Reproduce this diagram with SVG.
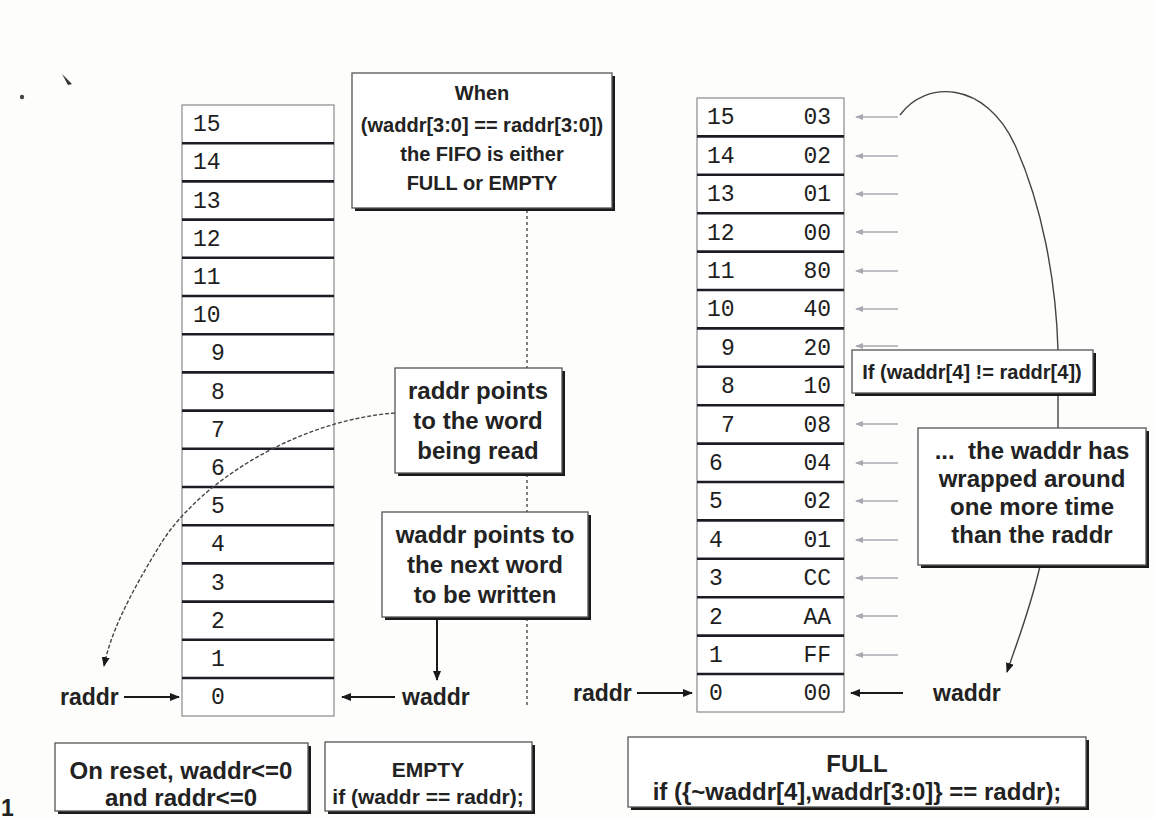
<svg xmlns="http://www.w3.org/2000/svg" width="1156" height="819" viewBox="0 0 1156 819">
<style>
.bg{fill:#fdfdfb}
.col{fill:#fff;stroke:#8a8a8a;stroke-width:1.2}
.sep{stroke:#1c1c24;stroke-width:2.6}
.num{font-family:"Liberation Mono",monospace;font-size:23px;fill:#1e1e1e}
.box{fill:#fff;stroke:#555;stroke-width:1.3}
.shadow{fill:#1a1a1a}
.t20{font-family:"Liberation Sans",Arial,sans-serif;font-weight:bold;font-size:20px;fill:#222;text-anchor:middle}
.t24{font-family:"Liberation Sans",Arial,sans-serif;font-weight:bold;font-size:24px;fill:#222;text-anchor:middle}
.t21{font-family:"Liberation Sans",Arial,sans-serif;font-weight:bold;font-size:21px;fill:#222;text-anchor:middle}
.lbl{font-family:"Liberation Sans",Arial,sans-serif;font-weight:bold;font-size:23px;fill:#222}
.ptr{stroke:#1a1a1a;stroke-width:2;fill:none}
.gptr{stroke:#a9a9b2;stroke-width:1.6;fill:none}
.dash{stroke:#555;stroke-width:1.5;fill:none;stroke-dasharray:3 3}
.curve{stroke:#444;stroke-width:1.4;fill:none}
</style>
<defs>
<marker id="ah" markerWidth="10" markerHeight="8" refX="9" refY="4" orient="auto" markerUnits="userSpaceOnUse"><path d="M0,0 L10,4 L0,8 z" fill="#1a1a1a"/></marker>
<marker id="gh" markerWidth="8" markerHeight="6" refX="7" refY="3" orient="auto" markerUnits="userSpaceOnUse"><path d="M0,0 L8,3 L0,6 z" fill="#a9a9b2"/></marker>
</defs>
<rect class="bg" x="0" y="0" width="1156" height="819"/>
<circle cx="22" cy="97" r="2.2" fill="#444"/>
<path d="M62,74 L72,84 L68,85 z" fill="#333"/>

<g id="left-memory">
<rect class="col" x="182" y="105" width="152" height="611"/>
<g class="sep">
<line x1="182" y1="143.2" x2="334" y2="143.2"/><line x1="182" y1="181.4" x2="334" y2="181.4"/><line x1="182" y1="219.6" x2="334" y2="219.6"/><line x1="182" y1="257.8" x2="334" y2="257.8"/><line x1="182" y1="296" x2="334" y2="296"/><line x1="182" y1="334.2" x2="334" y2="334.2"/><line x1="182" y1="372.4" x2="334" y2="372.4"/><line x1="182" y1="410.6" x2="334" y2="410.6"/><line x1="182" y1="448.8" x2="334" y2="448.8"/><line x1="182" y1="487" x2="334" y2="487"/><line x1="182" y1="525.2" x2="334" y2="525.2"/><line x1="182" y1="563.4" x2="334" y2="563.4"/><line x1="182" y1="601.6" x2="334" y2="601.6"/><line x1="182" y1="639.8" x2="334" y2="639.8"/><line x1="182" y1="678" x2="334" y2="678"/>
</g>
<g class="num">
<text x="193" y="131">15</text><text x="193" y="169">14</text><text x="193" y="208">13</text><text x="193" y="246">12</text><text x="193" y="284">11</text><text x="193" y="322">10</text>
<text x="211" y="360">9</text><text x="211" y="399">8</text><text x="211" y="437">7</text><text x="211" y="475">6</text><text x="211" y="513">5</text><text x="211" y="551">4</text><text x="211" y="590">3</text><text x="211" y="628">2</text><text x="211" y="666">1</text><text x="211" y="704">0</text>
</g>
</g>

<g id="right-memory">
<rect class="col" x="697" y="98" width="147" height="614"/>
<g class="sep">
<line x1="697" y1="136.4" x2="844" y2="136.4"/><line x1="697" y1="174.8" x2="844" y2="174.8"/><line x1="697" y1="213.2" x2="844" y2="213.2"/><line x1="697" y1="251.6" x2="844" y2="251.6"/><line x1="697" y1="290" x2="844" y2="290"/><line x1="697" y1="328.4" x2="844" y2="328.4"/><line x1="697" y1="366.8" x2="844" y2="366.8"/><line x1="697" y1="405.2" x2="844" y2="405.2"/><line x1="697" y1="443.6" x2="844" y2="443.6"/><line x1="697" y1="482" x2="844" y2="482"/><line x1="697" y1="520.4" x2="844" y2="520.4"/><line x1="697" y1="558.8" x2="844" y2="558.8"/><line x1="697" y1="597.2" x2="844" y2="597.2"/><line x1="697" y1="635.6" x2="844" y2="635.6"/><line x1="697" y1="674" x2="844" y2="674"/>
</g>
<g class="num">
<text x="707" y="124">15</text><text x="707" y="163">14</text><text x="707" y="201">13</text><text x="707" y="240">12</text><text x="707" y="278">11</text><text x="707" y="316">10</text>
<text x="721" y="355">9</text><text x="721" y="393">8</text><text x="721" y="432">7</text><text x="709" y="470">6</text><text x="709" y="508">5</text><text x="709" y="547">4</text><text x="709" y="585">3</text><text x="709" y="624">2</text><text x="709" y="662">1</text><text x="709" y="700">0</text>
</g>
<g class="num" text-anchor="end">
<text x="831" y="124">03</text><text x="831" y="163">02</text><text x="831" y="201">01</text><text x="831" y="240">00</text><text x="831" y="278">80</text><text x="831" y="316">40</text><text x="831" y="355">20</text><text x="831" y="393">10</text><text x="831" y="432">08</text><text x="831" y="470">04</text><text x="831" y="508">02</text><text x="831" y="547">01</text><text x="831" y="585">CC</text><text x="831" y="624">AA</text><text x="831" y="662">FF</text><text x="831" y="700">00</text>
</g>
</g>

<g id="connectors">
<path class="dash" d="M527,210 V368 M527,474 V512 M527,618 V705"/>
<path class="curve" stroke-dasharray="4 2" d="M395,413 C300,420 200,480 160,545 C128,597 110,635 104,666" marker-end="url(#ah)"/>
<line class="ptr" x1="437" y1="619" x2="437" y2="680" marker-end="url(#ah)"/>
<line class="ptr" x1="124" y1="697" x2="179" y2="697" marker-end="url(#ah)"/>
<line class="ptr" x1="395" y1="697" x2="342" y2="697" marker-end="url(#ah)"/>
<line class="ptr" x1="637" y1="693" x2="692" y2="693" marker-end="url(#ah)"/>
<line class="ptr" x1="903" y1="693" x2="851" y2="693" marker-end="url(#ah)"/>
<g class="gptr">
<line x1="898" y1="117" x2="856" y2="117" marker-end="url(#gh)"/>
<line x1="898" y1="156" x2="856" y2="156" marker-end="url(#gh)"/>
<line x1="898" y1="194" x2="856" y2="194" marker-end="url(#gh)"/>
<line x1="898" y1="232" x2="856" y2="232" marker-end="url(#gh)"/>
<line x1="898" y1="271" x2="856" y2="271" marker-end="url(#gh)"/>
<line x1="898" y1="309" x2="856" y2="309" marker-end="url(#gh)"/>
<line x1="898" y1="346" x2="856" y2="346" marker-end="url(#gh)"/>
<line x1="898" y1="424" x2="856" y2="424" marker-end="url(#gh)"/>
<line x1="898" y1="463" x2="856" y2="463" marker-end="url(#gh)"/>
<line x1="898" y1="501" x2="856" y2="501" marker-end="url(#gh)"/>
<line x1="898" y1="540" x2="856" y2="540" marker-end="url(#gh)"/>
<line x1="898" y1="578" x2="856" y2="578" marker-end="url(#gh)"/>
<line x1="898" y1="616" x2="856" y2="616" marker-end="url(#gh)"/>
<line x1="898" y1="655" x2="856" y2="655" marker-end="url(#gh)"/>
</g>
<path class="curve" d="M900,115 C925,80 985,80 1015,145 C1042,205 1056,280 1058,350"/>
<line class="curve" x1="1058" y1="393" x2="1058" y2="428"/>
<path class="curve" d="M1040,566 C1030,610 1016,645 1007,672" marker-end="url(#ah)"/>
</g>

<g id="when-box">
<rect class="shadow" x="355" y="76" width="260" height="135"/>
<rect class="box" x="352" y="73" width="260" height="135"/>
<text class="t20" x="482" y="100">When</text>
<text class="t20" x="482" y="132">(waddr[3:0] == raddr[3:0])</text>
<text class="t20" x="482" y="161">the FIFO is either</text>
<text class="t20" x="482" y="190">FULL or EMPTY</text>
</g>

<g id="raddr-note">
<rect class="shadow" x="398" y="371" width="167" height="105"/>
<rect class="box" x="395" y="368" width="167" height="105"/>
<text class="t24" x="478" y="399">raddr points</text>
<text class="t24" x="478" y="429">to the word</text>
<text class="t24" x="478" y="459">being read</text>
</g>

<g id="waddr-note">
<rect class="shadow" x="385" y="515" width="206" height="105"/>
<rect class="box" x="382" y="512" width="206" height="105"/>
<text class="t24" x="485" y="543">waddr points to</text>
<text class="t24" x="485" y="573">the next word</text>
<text class="t24" x="485" y="603">to be written</text>
</g>

<g id="pointer-labels">
<text class="lbl" x="60" y="705">raddr</text>
<text class="lbl" x="402" y="705">waddr</text>
<text class="lbl" x="573" y="701">raddr</text>
<text class="lbl" x="933" y="701">waddr</text>
</g>

<g id="if-box">
<rect class="shadow" x="855" y="353" width="241" height="43"/>
<rect class="box" x="852" y="350" width="241" height="43"/>
<text class="t20" x="972" y="379">If (waddr[4] != raddr[4])</text>
</g>

<g id="wrap-note">
<rect class="shadow" x="921" y="431" width="228" height="137"/>
<rect class="box" x="918" y="428" width="228" height="137"/>
<text class="t24" x="1032" y="459" xml:space="preserve">...  the waddr has</text>
<text class="t24" x="1032" y="487">wrapped around</text>
<text class="t24" x="1032" y="515">one more time</text>
<text class="t24" x="1032" y="543">than the raddr</text>
</g>

<g id="reset-box">
<rect class="shadow" x="58" y="746" width="253" height="68"/>
<rect class="box" x="55" y="743" width="253" height="68"/>
<text class="t24" x="181" y="779">On reset, waddr&lt;=0</text>
<text class="t24" x="181" y="806">and raddr&lt;=0</text>
</g>

<g id="empty-box">
<rect class="shadow" x="328" y="745" width="207" height="69"/>
<rect class="box" x="325" y="742" width="207" height="69"/>
<text class="t21" x="428" y="777">EMPTY</text>
<text class="t21" x="428" y="804">if (waddr == raddr);</text>
</g>

<g id="full-box">
<rect class="shadow" x="631" y="740" width="458" height="70"/>
<rect class="box" x="628" y="737" width="458" height="70"/>
<text class="t24" x="857" y="772">FULL</text>
<text class="t24" x="857" y="800">if ({~waddr[4],waddr[3:0]} == raddr);</text>
</g>

<text class="lbl" x="1" y="816" font-size="21">1</text>
</svg>
